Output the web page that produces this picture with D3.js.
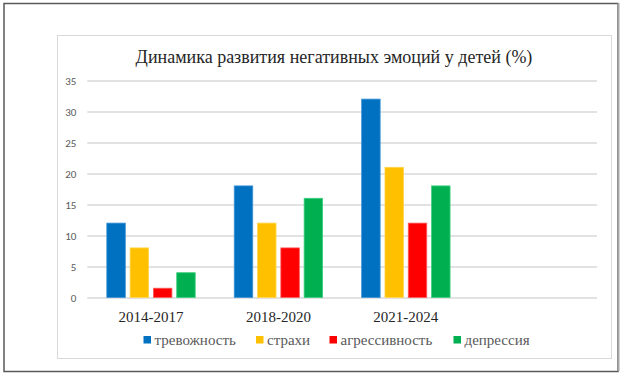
<!DOCTYPE html>
<html>
<head>
<meta charset="utf-8">
<script src="https://cdn.jsdelivr.net/npm/d3@7"></script>
<style>
  body { margin: 0; background: #fff; }
  svg { display: block; }
</style>
</head>
<body>
<svg id="chart" width="624" height="376"></svg>
<script>

// Data

var categories = ["2014-2017", "2018-2020", "2021-2024", ""];
var seriesNames = ["тревожность", "страхи", "агрессивность", "депрессия"];
var trevozhnost = [12, 18, 32];
var strakhi = [8, 12, 21];
var agressivnost = [1.5, 8, 12];
var depressiya = [4, 16, 18];
var yTicks = [0, 5, 10, 15, 20, 25, 30, 35];
var title = "Динамика развития негативных эмоций у детей (%)";

var seriesValues = [trevozhnost, strakhi, agressivnost, depressiya];
var colors = ["#0070C0", "#FFC000", "#FF0000", "#00B050"];
var strokes = ["#3d93d6", "#ffd54d", "#ff5c5c", "#3fcf80"];

var serif = "'Liberation Serif', 'Times New Roman', serif";

var svg = d3.select("#chart");

// Outer frame and chart area

svg.append("rect")
  .attr("x", 4).attr("y", 3.5)
  .attr("width", 614).attr("height", 368)
  .attr("fill", "#fff")
  .attr("stroke", "#595959")
  .attr("stroke-width", 1.5);

svg.append("line")
  .attr("x1", 618.5).attr("x2", 618.5)
  .attr("y1", 3).attr("y2", 371)
  .attr("stroke", "#a6a6a6")
  .attr("stroke-width", 2);

svg.append("rect")
  .attr("x", 57.5).attr("y", 35.5)
  .attr("width", 554).attr("height", 323)
  .attr("fill", "#fff")
  .attr("stroke", "#d9d9d9");

svg.append("text")
  .attr("x", 334).attr("y", 63)
  .attr("text-anchor", "middle")
  .style("font-family", serif)
  .style("font-size", "18px")
  .style("fill", "#262626")
  .text(title);

// Scales

var x = d3.scaleBand()
  .domain(categories)
  .range([87.3, 597]);

var y = d3.scaleLinear()
  .domain([0, 35])
  .range([297.5, 80.5]);

var barW = 18.5,
    step = 23.3,
    clusterW = step * 3 + barW;

// Gridlines and y labels

var yAxis = d3.axisLeft(y)
  .tickValues(yTicks)
  .tickSize(-(x.range()[1] - x.range()[0]))
  .tickPadding(11);

var gy = svg.append("g")
  .attr("transform", "translate(" + x.range()[0] + ",0)")
  .call(yAxis);

gy.select(".domain").remove();
gy.selectAll(".tick line")
  .attr("stroke", "#d9d9d9")
  .attr("stroke-width", 1.3);
gy.selectAll(".tick text")
  .style("font-family", "Carlito, 'Liberation Sans', Arial, sans-serif")
  .style("font-size", "11px")
  .style("fill", "#595959");

// Bars

seriesValues.forEach(function(vals, s) {
  svg.append("g")
    .selectAll("rect")
    .data(vals)
    .enter()
    .append("rect")
    .attr("x", function(d, i) {
      return x(categories[i]) + (x.bandwidth() - clusterW) / 2 + s * step;
    })
    .attr("y", function(d) { return y(d); })
    .attr("width", barW)
    .attr("height", function(d) { return y(0) - y(d); })
    .attr("fill", colors[s])
    .attr("stroke", strokes[s])
    .attr("stroke-width", 0.8);
});

// Category labels

var xAxis = d3.axisBottom(x).tickSize(0).tickPadding(0);

var gx = svg.append("g")
  .attr("transform", "translate(0," + y(0) + ")")
  .call(xAxis);

gx.select(".domain").remove();
gx.selectAll(".tick text")
  .attr("dy", 0)
  .attr("y", 24)
  .style("font-family", serif)
  .style("font-size", "15px")
  .style("fill", "#262626");

// Legend

var legendX = [143.5, 256, 329.5, 453.5];

var legend = svg.selectAll(".legend")
  .data(seriesNames)
  .enter()
  .append("g")
  .attr("class", "legend")
  .attr("transform", function(d, i) { return "translate(" + legendX[i] + ",336)"; });

legend.append("rect")
  .attr("width", 7.5)
  .attr("height", 7.5)
  .attr("fill", function(d, i) { return colors[i]; });

legend.append("text")
  .attr("x", 11)
  .attr("y", 9)
  .style("font-family", serif)
  .style("font-size", "15px")
  .style("fill", "#595959")
  .text(function(d) { return d; });

</script>
</body>
</html>
